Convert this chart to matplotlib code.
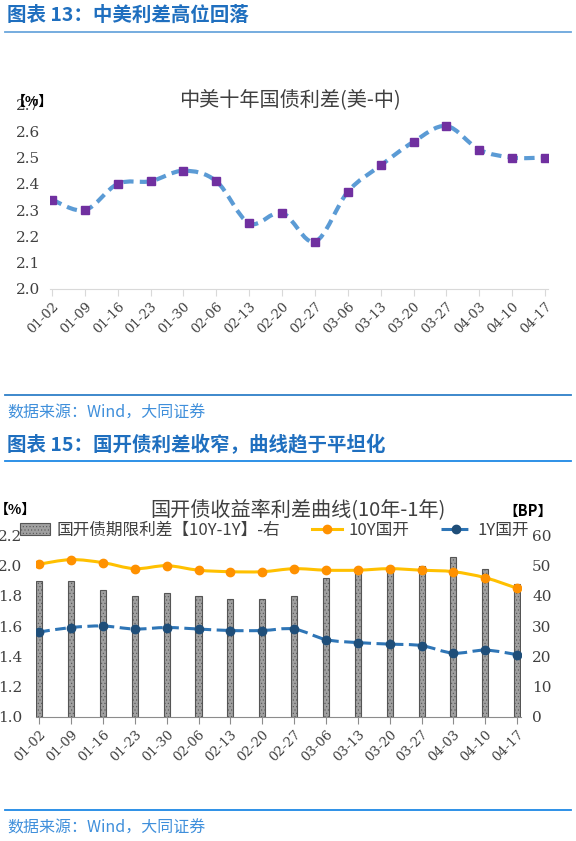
import matplotlib
matplotlib.use("Agg")
import matplotlib.pyplot as plt
from matplotlib.path import Path
from matplotlib.patches import PathPatch, Patch
from matplotlib.lines import Line2D

plt.rcParams['font.family'] = ['Noto Sans CJK SC', 'DejaVu Sans']
plt.rcParams['hatch.linewidth'] = 0.4

# === data ===
dates = ["01-02", "01-09", "01-16", "01-23", "01-30", "02-06", "02-13", "02-20",
         "02-27", "03-06", "03-13", "03-20", "03-27", "04-03", "04-10", "04-17"]

# chart 13: US-China 10Y spread (%)
us_cn_spread = [2.34, 2.30, 2.40, 2.41, 2.45, 2.41, 2.25, 2.29,
                2.18, 2.37, 2.47, 2.56, 2.62, 2.53, 2.50, 2.50]

# chart 15: CDB yields (%) and 10Y-1Y term spread (BP)
cdb_10y = [2.01, 2.04, 2.02, 1.98, 2.00, 1.97, 1.96, 1.96,
           1.98, 1.97, 1.97, 1.98, 1.97, 1.96, 1.92, 1.85]
cdb_1y = [1.56, 1.59, 1.60, 1.58, 1.59, 1.58, 1.57, 1.57,
          1.58, 1.51, 1.49, 1.48, 1.47, 1.42, 1.44, 1.41]
term_spread_bp = [45, 45, 42, 40, 41, 40, 39, 39,
                  40, 46, 48, 50, 50, 53, 49, 44]

W, H = 576, 841
SERIF = 'DejaVu Serif'


def fx(px):
    return px / W


def fy(py):
    return 1 - py / H


def smooth_path(x, y):
    # Catmull-Rom style bezier through the data points (Excel "smoothed line")
    n = len(x)
    verts = [(x[0], y[0])]
    codes = [Path.MOVETO]
    for i in range(n - 1):
        xp, yp = (x[i - 1], y[i - 1]) if i > 0 else (x[i], y[i])
        xn, yn = (x[i + 2], y[i + 2]) if i + 2 < n else (x[i + 1], y[i + 1])
        c1 = (x[i] + (x[i + 1] - xp) / 6, y[i] + (y[i + 1] - yp) / 6)
        c2 = (x[i + 1] - (xn - x[i]) / 6, y[i + 1] - (yn - y[i]) / 6)
        verts += [c1, c2, (x[i + 1], y[i + 1])]
        codes += [Path.CURVE4] * 3
    return Path(verts, codes)


fig = plt.figure(figsize=(W / 100, H / 100), dpi=100)

# === headers / separators ===
hdr_color = '#1F6FBF'
src_color = '#3F8FDB'
fig.text(fx(7), fy(15), "图表 13：中美利差高位回落", fontsize=14, fontweight='bold',
         color=hdr_color, va='center', ha='left')
fig.add_artist(Line2D([fx(5), fx(571)], [fy(32), fy(32)], color='#6AA6DC', lw=1.3))
fig.add_artist(Line2D([fx(5), fx(571)], [fy(395), fy(395)], color='#2E7FC8', lw=1.3))
fig.text(fx(7), fy(413), "数据来源：Wind，大同证券", fontsize=11.5, color=src_color,
         va='center', ha='left', style='italic')
fig.text(fx(7), fy(445), "图表 15：国开债利差收窄，曲线趋于平坦化", fontsize=14,
         fontweight='bold', color=hdr_color, va='center', ha='left')
fig.add_artist(Line2D([fx(5), fx(571)], [fy(461), fy(461)], color='#1E88E5', lw=1.3))
fig.add_artist(Line2D([fx(5), fx(571)], [fy(810), fy(810)], color='#1E88E5', lw=1.3))
fig.text(fx(7), fy(828), "数据来源：Wind，大同证券", fontsize=11.5, color=src_color,
         va='center', ha='left', style='italic')

x = list(range(len(dates)))

# === chart 13 ===
ax1 = fig.add_axes([fx(50), fy(289), fx(548) - fx(50), fy(105) - fy(289)])
ax1.set_xlim(-0.06, 15.09)
ax1.set_ylim(2.0, 2.7)
ax1.add_patch(PathPatch(smooth_path(x, us_cn_spread), fill=False, edgecolor='#5B9BD5',
                        lw=3, linestyle=(0, (2.5, 1.5)), transform=ax1.transData))
ax1.plot(x, us_cn_spread, ls='none', marker='s', ms=6, color='#7030A0', zorder=3)
for s in ['top', 'right', 'left']:
    ax1.spines[s].set_visible(False)
ax1.spines['bottom'].set_color('#D9D9D9')
ax1.set_xticks(x)
ax1.set_xticklabels(dates, rotation=45, ha='right', va='top', rotation_mode='anchor',
                    fontsize=9.5, family=SERIF, color='#404040')
ax1.tick_params(axis='x', length=5, color='#D9D9D9', pad=3)
ax1.set_yticks([2.0, 2.1, 2.2, 2.3, 2.4, 2.5, 2.6, 2.7])
ax1.set_yticklabels([f"{v:.1f}" for v in ax1.get_yticks()], fontsize=11, family=SERIF,
                    color='#404040')
ax1.tick_params(axis='y', length=0, pad=7)
fig.text(fx(32), fy(102), "【%】", fontsize=10, fontweight='bold', color='black',
         ha='center', va='center')
fig.text(fx(290), fy(100), "中美十年国债利差(美-中)", fontsize=14.5, color='#404040',
         ha='center', va='center')

# === chart 15 ===
axb = fig.add_axes([fx(36), fy(716.5), fx(521) - fx(36), fy(535.5) - fy(716.5)])
axl = axb.twinx()
axb.set_xlim(-0.1, 15.12)
axb.set_ylim(0, 60)
axl.set_ylim(1.0, 2.2)
# bars on base axes (right scale), lines on top axes (left scale)
axb.yaxis.tick_right()
axl.yaxis.tick_left()
axb.bar(x, term_spread_bp, width=0.19, facecolor='#A0A0A0', edgecolor='#555555',
        lw=0.8, hatch='.....')
axl.add_patch(PathPatch(smooth_path(x, cdb_10y), fill=False, edgecolor='#FFC000', lw=2.2,
                        transform=axl.transData))
axl.plot(x, cdb_10y, ls='none', marker='o', ms=6, color='#FF9100', zorder=3)
axl.add_patch(PathPatch(smooth_path(x, cdb_1y), fill=False, edgecolor='#2E75B6', lw=2.2,
                        linestyle=(0, (3.5, 1.8)), transform=axl.transData))
axl.plot(x, cdb_1y, ls='none', marker='o', ms=6, color='#1F4E79', zorder=3)

for a in (axb, axl):
    for s in ['top', 'right', 'left']:
        a.spines[s].set_visible(False)
axb.spines['bottom'].set_color('#8C8C8C')
axl.spines['bottom'].set_visible(False)
axb.set_xticks(x)
axb.set_xticklabels(dates, rotation=45, ha='right', va='top', rotation_mode='anchor',
                    fontsize=9.5, family=SERIF, color='#404040')
axb.tick_params(axis='x', length=5, color='#8C8C8C', pad=3)
axb.set_yticks(range(0, 61, 10))
axb.set_yticklabels([str(v) for v in range(0, 61, 10)], fontsize=11, family=SERIF,
                    color='#404040')
axb.tick_params(axis='y', length=0, pad=8)
ly = [1.0, 1.2, 1.4, 1.6, 1.8, 2.0, 2.2]
axl.set_yticks(ly)
axl.set_yticklabels([f"{v:.1f}" for v in ly], fontsize=11, family=SERIF, color='#404040')
axl.tick_params(axis='y', length=0, pad=10)

fig.text(fx(15), fy(510), "【%】", fontsize=10, fontweight='bold', color='black',
         ha='center', va='center')
fig.text(fx(528), fy(511), "【BP】", fontsize=10.5, fontweight='bold', color='black',
         ha='center', va='center')
fig.text(fx(298), fy(510), "国开债收益率利差曲线(10年-1年)", fontsize=14.5, color='#404040',
         ha='center', va='center')

handles = [
    Patch(facecolor='#A0A0A0', edgecolor='#555555', lw=0.8, hatch='.....'),
    Line2D([], [], color='#FFC000', lw=2.2, marker='o', ms=6, mfc='#FF9100', mec='#FF9100'),
    Line2D([], [], color='#2E75B6', lw=2.2, ls=(0, (3.5, 1.8)), marker='o', ms=6,
           mfc='#1F4E79', mec='#1F4E79'),
]
labels = ["国开债期限利差【10Y-1Y】-右", "10Y国开", "1Y国开"]
fig.legend(handles, labels, loc='center left', bbox_to_anchor=(fx(20), fy(530)), ncol=3,
           frameon=False, fontsize=12, handlelength=1.8, handletextpad=0.4,
           columnspacing=1.9, borderpad=0, borderaxespad=0, labelcolor='#404040')

fig.savefig("out.png", dpi=100)
